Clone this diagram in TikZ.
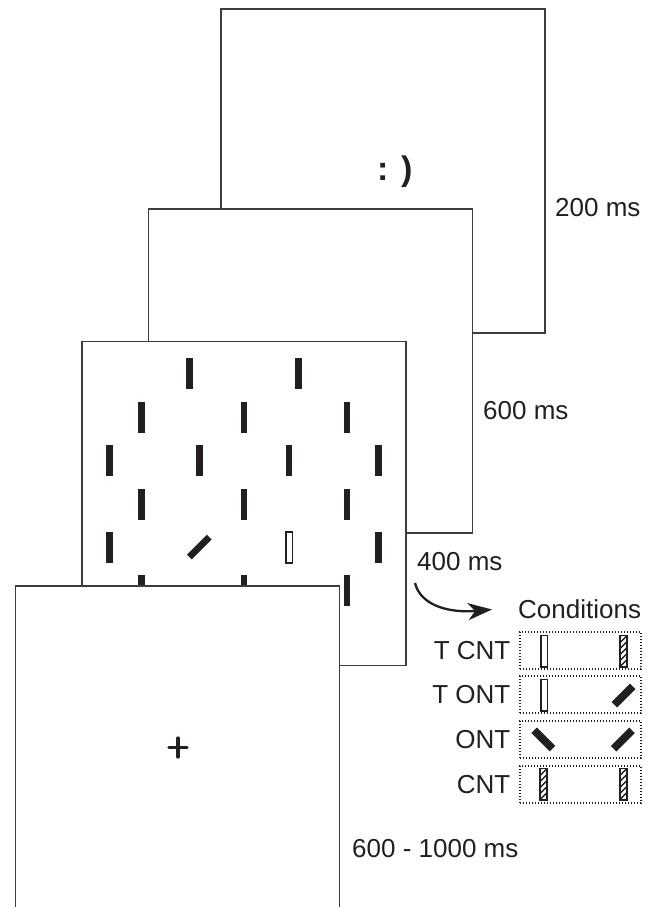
\documentclass[tikz,border=0pt]{standalone}
\usepackage{fontspec}
\setmainfont{Liberation Sans}
\usetikzlibrary{arrows.meta}
\definecolor{ink}{HTML}{231F20}
\definecolor{edgec}{HTML}{3C3C3C}
\newcommand\mySolid[2]{\fill[ink] (#1-3.3,#2-15.5) rectangle (#1+3.3,#2+15.5);}
\newcommand\myOpen[2]{\draw[ink,line width=1.8pt,fill=white] (#1-3.4,#2-15.6) rectangle (#1+3.4,#2+15.6);}
\newcommand\myTilt[5]{\fill[ink,rotate around={#3:(#1,#2)}] (#1-#4,#2-#5) rectangle (#1+#4,#2+#5);}
\newcommand\myHatch[2]{\begin{scope}
 \draw[ink,line width=1.8pt,fill=white] (#1-3.4,#2-15.6) rectangle (#1+3.4,#2+15.6);
 \clip (#1-3.4,#2-15.6) rectangle (#1+3.4,#2+15.6);
 \foreach \k in {-36,-30,...,36} {\draw[ink,line width=1.4pt] (#1-8,#2+\k+8) -- (#1+8,#2+\k-8);}
\end{scope}}
\tikzset{
 frame/.style={draw=edgec, line width=1.3pt, fill=white, minimum width=324pt, minimum height=324pt, inner sep=0pt, outer sep=0pt},
 lbl/.style={font=\fontsize{26}{30}\selectfont, text=ink, inner sep=0pt},
 condbox/.style={draw=ink, line width=1.2pt, dash pattern=on 1.2pt off 1.8pt, minimum width=121pt, minimum height=37pt, inner sep=0pt},
}
\begin{document}
\begin{tikzpicture}[x=1pt,y=-1pt]
\useasboundingbox (0,0) rectangle (658,907);
\clip (0,0) rectangle (658,907);
\fill[white] (0,0) rectangle (658,907);
% frame 1 : 200 ms
\node[frame] (f1) at (383,171) {};
\node[font=\bfseries\fontsize{34}{38}\selectfont, text=ink, inner sep=0pt, anchor=base west] (smile) at (377,180.5) {: )};
% frame 2 : 600 ms
\node[frame] (f2) at (310.5,371) {};
% frame 3 : 400 ms search array
\node[frame] (f3) at (244,503.5) {};
\mySolid{189.5}{373.5}\mySolid{298.7}{373.5}
\mySolid{141.3}{417}\mySolid{244}{417}\mySolid{347}{417}
\mySolid{109.7}{460.5}\mySolid{199.3}{460.5}\mySolid{289}{460.5}\mySolid{378.7}{460.5}
\mySolid{141.3}{504}\mySolid{244}{504}\mySolid{347}{504}
\mySolid{109.7}{547}\myTilt{199.3}{547}{-45}{3.4}{14}\myOpen{289}{547.5}\mySolid{378.7}{547}
\mySolid{141.3}{590.5}\mySolid{244}{590.5}\mySolid{347}{590.5}
% frame 4 : fixation
\node[frame, minimum height=330pt] (f4) at (177.5,751) {};
\draw[ink, line width=3.2pt, line cap=round] (169,747.5) -- (187,747.5);
\draw[ink, line width=3.2pt, line cap=round] (178,738) -- (178,757);
% durations
\node[lbl, anchor=base west] (t200) at (555,216.5) {200 ms};
\node[lbl, anchor=base west] (t600) at (483,419) {600 ms};
\node[lbl, anchor=base west] (t400) at (417,570) {400 ms};
\node[lbl, anchor=base west] (tfix) at (352,857) {600 - 1000 ms};
% arrow
\coordinate (as) at (415,583);
\coordinate (ae) at (492,609.5);
\draw[ink, line width=2.3pt, -{Stealth[length=24pt,width=17pt,inset=7pt]}] (as) .. controls (421,607) and (452,613) .. (ae);
% conditions
\node[lbl, anchor=base west] (cond) at (518,618) {Conditions};
\node[condbox] (r1) at (580.5,650.5) {};
\node[condbox] (r2) at (580.5,694.5) {};
\node[condbox] (r3) at (580.5,739.5) {};
\node[condbox] (r4) at (580.5,784.5) {};
\node[lbl, anchor=base east] (l1) at (510.5,659) {T CNT};
\node[lbl, anchor=base east] (l2) at (510.5,703) {T ONT};
\node[lbl, anchor=base east] (l3) at (510.5,748) {ONT};
\node[lbl, anchor=base east] (l4) at (510.5,793) {CNT};
\myOpen{544}{651}\myHatch{623.5}{651}
\myOpen{544}{695}\myTilt{623.5}{695.5}{-45}{3.9}{13}
\myTilt{543.3}{739.5}{45}{3.9}{13}\myTilt{622.8}{739.5}{-45}{3.9}{13}
\myHatch{543.5}{784}\myHatch{623.3}{784}
\end{tikzpicture}
\end{document}
